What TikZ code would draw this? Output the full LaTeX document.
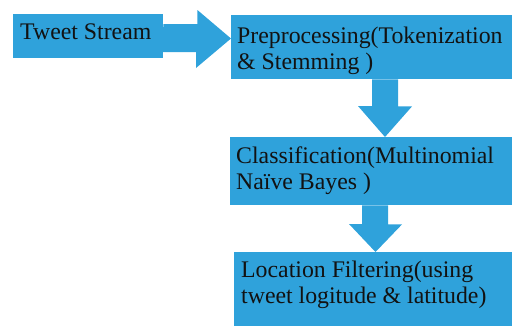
\documentclass[tikz,border=0pt]{standalone}
\usepackage{fontspec}
\setmainfont{Liberation Serif}
\definecolor{flowblue}{RGB}{47,162,219}
\definecolor{ink}{RGB}{18,18,18}
\tikzset{
  box/.style={fill=flowblue, draw=none, inner sep=0pt, anchor=north west},
  flow/.style={fill=flowblue, draw=none},
  txt/.style={text=ink, inner sep=0pt, anchor=base west, align=left,
              font=\fontsize{23.8}{26}\selectfont}
}
\begin{document}
\begin{tikzpicture}[x=1pt,y=-1pt]
\useasboundingbox (0,0) rectangle (512,325);

% process boxes
\node[box, minimum width=150pt, minimum height=44pt] (tw)  at (13,14)  {};
\node[box, minimum width=281pt, minimum height=64pt] (pre) at (231,15) {};
\node[box, minimum width=282pt, minimum height=68pt] (cls) at (230,137) {};
\node[box, minimum width=278pt, minimum height=75pt] (loc) at (234,252) {};

% block arrows between the stages
\fill[flow] (tw.north east) ++(0,10) -- ++(34,0) -- ++(0,-14)
            -- (pre.west |- 0,38.5) -- ++(-35,29.5) -- ++(0,-16) -- ++(-34,0) -- cycle;
\fill[flow] (pre.south west) ++(141,0) -- ++(26,0) -- ++(0,27) -- ++(14,0)
            -- (cls.north west -| 385,0) -- ++(-27,-31) -- ++(14,0) -- cycle;
\fill[flow] (cls.south west) ++(132,0) -- ++(26,0) -- ++(0,19) -- ++(14,0)
            -- (loc.north west -| 375.5,0) -- ++(-26.5,-28) -- ++(13,0) -- cycle;

% labels (anchored at the baseline of the last line)
\node[txt] (twt)  at (20,39)  {Tweet Stream};
\node[txt] (pret) at (237,69) {Preprocessing(Tokenization\\\& Stemming )};
\node[txt] (clst) at (236,189) {Classification(Multinomial\\Naïve Bayes )};
\node[txt] (loct) at (241,303) {Location Filtering(using\\tweet logitude \& latitude)};
\end{tikzpicture}
\end{document}
